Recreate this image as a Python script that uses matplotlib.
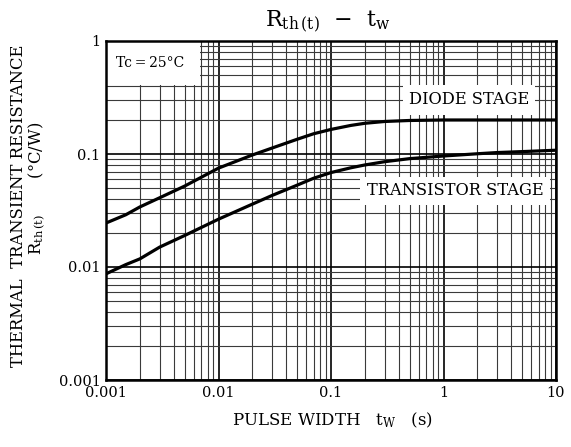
import matplotlib
matplotlib.use('Agg')
import matplotlib.pyplot as plt
from matplotlib.patches import Rectangle
from matplotlib.ticker import FixedLocator, NullFormatter

plt.rcParams['font.family'] = ['DejaVu Serif']
plt.rcParams['mathtext.fontset'] = 'dejavuserif'

# Values
pulse_width = [0.001, 0.0015, 0.002, 0.003, 0.005, 0.01, 0.02, 0.03, 0.05, 0.07,
               0.1, 0.15, 0.2, 0.3, 0.5, 1, 2, 3, 5, 10]
diode_rth = [0.0245, 0.029, 0.034, 0.041, 0.052, 0.075, 0.098, 0.113, 0.135, 0.151,
             0.165, 0.179, 0.187, 0.194, 0.198, 0.2, 0.2, 0.2, 0.2, 0.2]
transistor_rth = [0.0087, 0.0105, 0.0118, 0.015, 0.019, 0.0265, 0.036, 0.043, 0.053, 0.061,
                  0.0685, 0.0755, 0.0800, 0.0855, 0.091, 0.096, 0.1005, 0.103, 0.105, 0.108]

x_ticks = [0.001, 0.01, 0.1, 1, 10]
x_tick_labels = ['0.001', '0.01', '0.1', '1', '10']
y_ticks = [0.001, 0.01, 0.1, 1]
y_tick_labels = ['0.001', '0.01', '0.1', '1']

fig = plt.figure(figsize=(5.71, 4.47), dpi=100)
ax = fig.add_axes([106 / 571, 1 - 380 / 447, 450 / 571, 339 / 447])

ax.set_xscale('log')
ax.set_yscale('log')
ax.set_xlim(0.001, 10)
ax.set_ylim(0.001, 1)

ax.xaxis.set_major_locator(FixedLocator(x_ticks))
ax.yaxis.set_major_locator(FixedLocator(y_ticks))
ax.set_xticklabels(x_tick_labels)
ax.set_yticklabels(y_tick_labels)
ax.xaxis.set_minor_formatter(NullFormatter())
ax.yaxis.set_minor_formatter(NullFormatter())
ax.tick_params(which='both', length=0, labelsize=10.5, pad=4)

ax.set_axisbelow(True)
ax.grid(True, which='major', color='black', lw=1.2)
ax.grid(True, which='minor', color='#3a3a3a', lw=0.8)
for s in ax.spines.values():
    s.set_linewidth(1.8)

# white label boxes that cover the grid
box_kw = dict(transform=ax.transAxes, facecolor='white', edgecolor='none', zorder=1.5)
ax.add_patch(Rectangle((0.0, 0.870), 0.209, 0.130, **box_kw))
ax.add_patch(Rectangle((0.660, 0.782), 0.293, 0.088, **box_kw))
ax.add_patch(Rectangle((0.564, 0.516), 0.423, 0.083, **box_kw))

ax.plot(pulse_width, diode_rth, color='black', lw=2.3, zorder=2, solid_capstyle='butt')
ax.plot(pulse_width, transistor_rth, color='black', lw=2.3, zorder=2, solid_capstyle='butt')

ax.text(0.098, 0.935, 'Tc\u2009=\u200925°C', transform=ax.transAxes, ha='center',
        va='center', fontsize=10, zorder=3)
ax.text(0.807, 0.826, 'DIODE STAGE', transform=ax.transAxes, ha='center', va='center',
        fontsize=11.7, zorder=3)
ax.text(0.776, 0.558, 'TRANSISTOR STAGE', transform=ax.transAxes, ha='center', va='center',
        fontsize=11.7, zorder=3)

fig.text(328 / 571, 1 - 22 / 447, r'R$_{\mathrm{th\,(t)}}$  $-$  t$_{\mathrm{w}}$',
         ha='center', va='center', fontsize=16)
fig.text(332 / 571, 1 - 420 / 447, r'PULSE WIDTH   t$_{\mathrm{W}}$   (s)',
         ha='center', va='center', fontsize=12)
fig.text(19 / 571, 1 - 206 / 447, 'THERMAL  TRANSIENT RESISTANCE', rotation=90,
         ha='center', va='center', fontsize=11.8)
fig.text(37 / 571, 1 - 188 / 447, r'R$_{\mathrm{th\,(t)}}$       (°C/W)', rotation=90,
         ha='center', va='center', fontsize=11.8)

fig.savefig('out.png', dpi=100, facecolor='white')
